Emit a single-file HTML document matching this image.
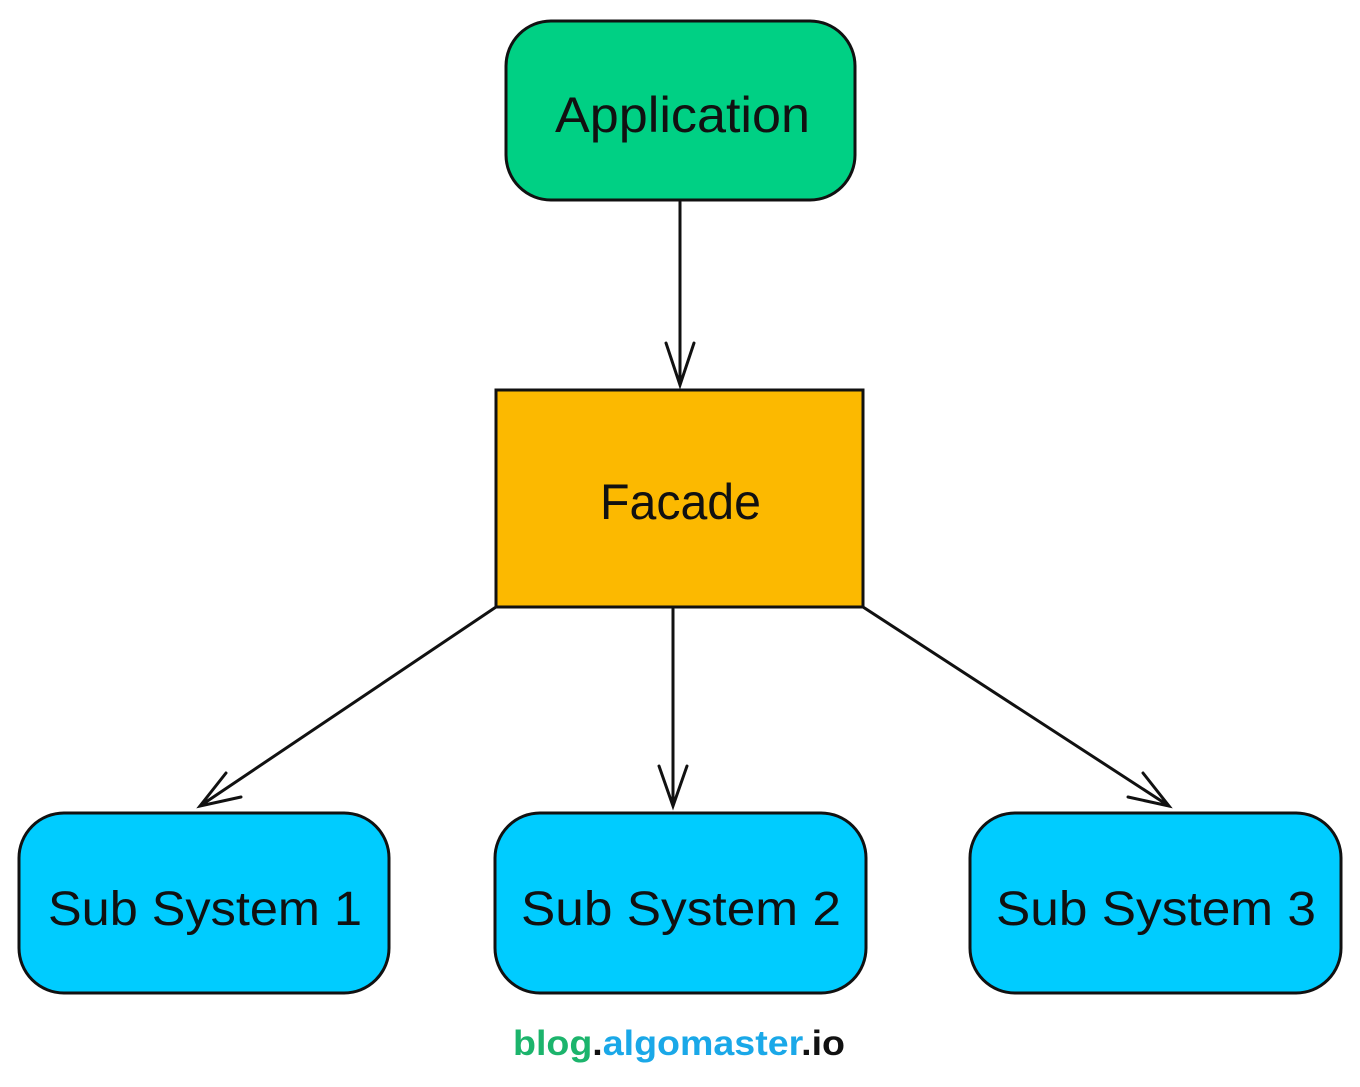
<!DOCTYPE html>
<html><head><meta charset="utf-8"><style>
body{margin:0;background:#fff;width:1360px;height:1082px;overflow:hidden}
svg text{font-family:"Comic Sans MS","Liberation Sans",sans-serif}
</style></head><body>
<svg width="1360" height="1082" viewBox="0 0 1360 1082" xmlns="http://www.w3.org/2000/svg">
<rect x="506" y="21" width="349" height="179" rx="45" fill="#00d084" stroke="#111" stroke-width="3"/>
<text x="555" y="132" font-size="50" textLength="255" lengthAdjust="spacingAndGlyphs" fill="#111">Application</text>
<rect x="496" y="390" width="367" height="217" fill="#fcb900" stroke="#111" stroke-width="3"/>
<text x="600" y="519" font-size="50" textLength="161" lengthAdjust="spacingAndGlyphs" fill="#111">Facade</text>
<rect x="19" y="813" width="370" height="180" rx="45" fill="#00ccff" stroke="#111" stroke-width="3"/>
<text x="48" y="925" font-size="48" textLength="314" lengthAdjust="spacingAndGlyphs" fill="#111">Sub System 1</text>
<rect x="495" y="813" width="371" height="180" rx="45" fill="#00ccff" stroke="#111" stroke-width="3"/>
<text x="521" y="925" font-size="48" textLength="320" lengthAdjust="spacingAndGlyphs" fill="#111">Sub System 2</text>
<rect x="970" y="813" width="371" height="180" rx="45" fill="#00ccff" stroke="#111" stroke-width="3"/>
<text x="996" y="925" font-size="48" textLength="320" lengthAdjust="spacingAndGlyphs" fill="#111">Sub System 3</text>
<g stroke="#111" stroke-width="3" fill="none" stroke-linecap="round">
<path d="M680 202 L680 385 M666 343 L680 385 L694 343"/>
<path d="M673 609 L673 806 M659 766 L673 806 L687 766"/>
<path d="M496 607 L200 806 M226 773 L200 806 L241 797"/>
<path d="M863 607 L1169 806 M1143 773 L1169 806 L1128 797"/>
</g>
<text x="513" y="1055" font-size="35" font-weight="bold" textLength="332" lengthAdjust="spacingAndGlyphs" style="font-family:'Liberation Sans',sans-serif"><tspan fill="#1cb46c">blog</tspan><tspan fill="#111">.</tspan><tspan fill="#1aa8e8">algomaster</tspan><tspan fill="#111">.io</tspan></text>
</svg>
</body></html>
